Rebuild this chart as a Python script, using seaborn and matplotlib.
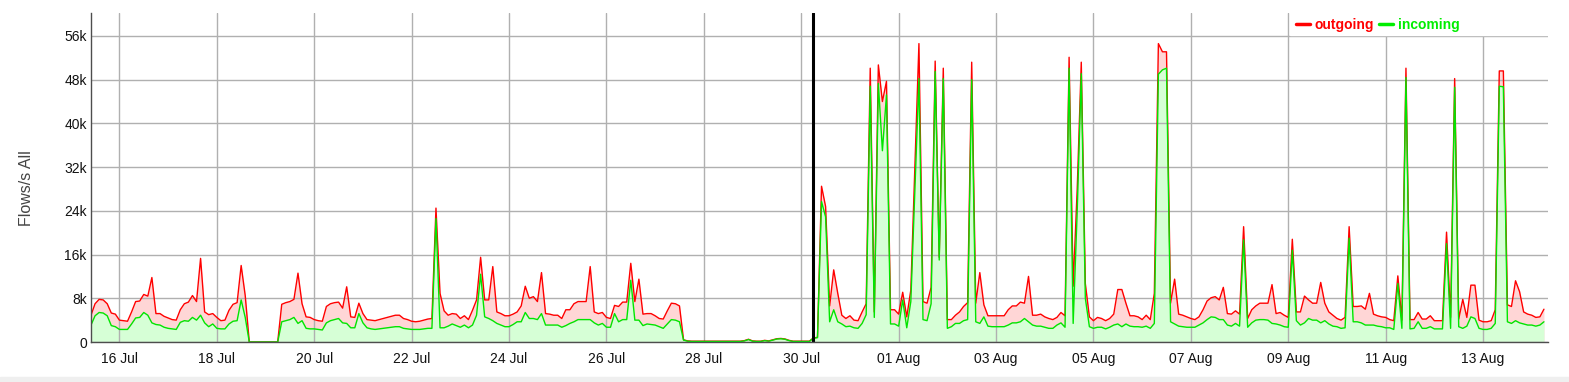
import numpy as np
import pandas as pd
import matplotlib
matplotlib.use("Agg")
import matplotlib.pyplot as plt
from matplotlib.lines import Line2D
from matplotlib.patches import Rectangle
import seaborn as sns

# 2-hourly samples, one row per day, values in thousands of flows/s
start = "2023-07-15 10:00"
step = "2h"

outgoing_k = [
    4.9, 7.0, 7.8, 7.7, 7.0, 5.3, 5.1, 4.0, 3.9, 3.8, 5.5, 7.4,
    7.5, 8.7, 8.4, 11.8, 5.2, 5.2, 4.7, 4.4, 4.1, 4.0, 5.9, 7.0,
    7.3, 8.5, 7.4, 15.3, 5.5, 5.0, 5.2, 4.5, 3.9, 4.0, 5.8, 6.9,
    7.2, 14.0, 8.5, 0, 0, 0, 0, 0, 0, 0, 0, 6.9,
    7.2, 7.4, 7.8, 12.6, 7.0, 4.6, 4.5, 4.1, 3.9, 3.8, 6.5, 7.0,
    7.2, 7.3, 6.2, 10.1, 4.6, 4.5, 7.1, 5.2, 4.1, 4.0, 3.9, 4.1,
    4.3, 4.5, 4.7, 4.9, 4.9, 4.3, 4.1, 3.8, 3.7, 3.8, 4.0, 4.2,
    4.3, 24.5, 8.9, 5.7, 4.9, 5.2, 5.1, 4.3, 4.8, 4.1, 5.8, 7.7,
    15.5, 7.7, 7.7, 13.8, 5.5, 5.2, 4.8, 4.8, 5.1, 5.5, 6.6, 10.2,
    8.0, 8.3, 7.4, 12.7, 5.2, 5.1, 4.9, 4.9, 4.3, 5.9, 5.9, 7.0,
    7.4, 7.4, 7.4, 13.8, 5.5, 5.2, 5.4, 4.5, 4.3, 6.7, 6.5, 7.3,
    7.3, 14.4, 7.4, 11.5, 5.1, 5.2, 5.2, 4.8, 4.3, 4.2, 5.7, 7.1,
    7.0, 6.6, 0.4, 0.2, 0.15, 0.15, 0.15, 0.15, 0.15, 0.15, 0.15, 0.15,
    0.15, 0.15, 0.15, 0.15, 0.15, 0.25, 0.5, 0.2, 0.15, 0.15, 0.3, 0.2,
    0.4, 0.6, 0.65, 0.55, 0.3, 0.15, 0.15, 0.15, 0.15, 0.15, 0.75, 0.85,
    28.5, 24.8, 6.6, 13.2, 8.9, 4.9, 4.3, 4.8, 4.0, 3.9, 5.5, 7.0,
    50.1, 5.5, 50.7, 44.0, 47.7, 5.9, 5.9, 5.1, 9.1, 4.6, 9.5, 32.0,
    54.6, 7.4, 7.1, 10.0, 51.4, 15.5, 50.1, 4.1, 4.1, 4.9, 5.5, 6.5,
    7.2, 51.2, 7.1, 12.7, 6.8, 4.8, 4.8, 4.8, 4.8, 4.8, 5.9, 6.6,
    6.6, 7.3, 7.1, 12.0, 4.9, 4.9, 5.1, 4.6, 4.3, 4.1, 4.5, 5.4,
    4.8, 52.1, 10.2, 28.0, 51.2, 10.7, 4.6, 3.9, 4.5, 4.3, 3.9, 4.3,
    5.1, 9.6, 9.6, 7.1, 4.8, 4.8, 4.6, 4.1, 4.9, 4.1, 8.9, 54.6,
    53.1, 53.1, 7.1, 11.5, 5.1, 4.9, 4.6, 4.3, 4.1, 4.6, 5.9, 7.5,
    8.1, 8.3, 7.7, 10.0, 5.2, 5.1, 5.7, 5.1, 21.1, 4.3, 5.9, 6.6,
    7.1, 7.1, 7.1, 10.5, 5.2, 5.4, 4.9, 4.5, 18.8, 5.5, 5.5, 8.4,
    7.7, 7.1, 7.1, 10.9, 7.1, 5.5, 4.9, 4.3, 4.0, 4.5, 21.1, 6.5,
    6.5, 6.6, 6.0, 8.9, 5.1, 4.8, 4.6, 4.5, 4.1, 3.9, 12.1, 4.0,
    50.1, 4.1, 4.1, 5.4, 4.2, 4.2, 4.8, 3.9, 3.9, 3.9, 20.1, 4.5,
    48.2, 4.2, 7.8, 4.5, 10.4, 10.4, 4.0, 3.7, 3.7, 3.9, 5.9, 49.6,
    49.6, 6.8, 6.5, 11.2, 9.2, 5.5, 5.1, 4.9, 4.5, 4.6, 6.0,
]

incoming_k = [
    3.1, 4.8, 5.4, 5.3, 4.8, 3.0, 2.8, 2.3, 2.3, 2.3, 3.3, 4.4,
    4.5, 5.4, 4.9, 3.5, 3.2, 3.1, 2.7, 2.5, 2.4, 2.3, 3.6, 3.9,
    3.8, 4.5, 4.0, 4.9, 3.5, 2.8, 3.3, 2.5, 2.4, 2.4, 3.3, 3.8,
    3.9, 7.7, 4.5, 0, 0, 0, 0, 0, 0, 0, 0, 3.7,
    3.9, 4.1, 4.5, 3.4, 3.9, 2.5, 2.4, 2.4, 2.3, 2.2, 3.5, 3.9,
    4.1, 4.3, 3.5, 3.4, 2.6, 2.6, 5.2, 3.5, 2.6, 2.4, 2.3, 2.4,
    2.5, 2.6, 2.7, 2.8, 2.8, 2.5, 2.4, 2.3, 2.3, 2.3, 2.4, 2.5,
    2.5, 22.6, 2.6, 2.6, 2.9, 3.3, 3.0, 2.7, 3.1, 2.6, 3.1, 4.9,
    12.4, 4.6, 4.3, 3.9, 3.4, 3.1, 2.8, 2.8, 3.2, 3.7, 3.7, 5.4,
    4.3, 4.3, 4.1, 5.2, 3.1, 3.1, 3.1, 3.1, 2.7, 3.0, 3.4, 3.7,
    4.1, 4.1, 4.1, 4.1, 3.5, 3.1, 3.4, 2.7, 2.7, 5.2, 3.7, 4.1,
    4.1, 11.3, 4.0, 4.0, 3.0, 3.3, 3.2, 3.1, 2.8, 2.5, 3.3, 4.1,
    4.0, 3.7, 0.35, 0.15, 0.1, 0.1, 0.1, 0.1, 0.1, 0.1, 0.1, 0.1,
    0.1, 0.1, 0.1, 0.1, 0.1, 0.2, 0.45, 0.15, 0.1, 0.1, 0.25, 0.15,
    0.35, 0.55, 0.6, 0.5, 0.25, 0.1, 0.1, 0.1, 0.1, 0.1, 0.7, 0.8,
    25.7, 22.9, 3.7, 5.9, 3.7, 3.3, 2.8, 2.9, 2.6, 2.5, 3.4, 5.0,
    46.8, 4.5, 47.3, 35.0, 45.2, 3.3, 3.3, 2.9, 7.7, 2.6, 7.4, 28.0,
    48.2, 4.1, 3.9, 7.0, 49.5, 15.0, 48.2, 2.5, 2.8, 3.4, 3.4, 3.9,
    4.1, 48.0, 3.7, 3.4, 4.6, 2.9, 2.8, 2.8, 2.8, 2.8, 3.1, 3.5,
    3.5, 3.7, 4.3, 3.7, 3.1, 2.9, 2.9, 2.7, 2.5, 2.5, 3.1, 3.5,
    2.7, 50.1, 3.4, 24.0, 49.1, 8.0, 2.8, 2.5, 2.7, 2.7, 2.4, 2.7,
    3.1, 3.3, 2.8, 3.3, 2.9, 2.8, 2.8, 2.7, 2.9, 2.5, 3.4, 49.0,
    49.8, 50.1, 3.7, 3.3, 2.9, 2.8, 2.7, 2.7, 2.7, 3.1, 3.5, 4.1,
    4.6, 4.5, 4.1, 4.1, 3.1, 2.9, 3.4, 2.9, 18.7, 2.7, 3.5, 4.0,
    4.1, 4.1, 4.0, 3.4, 3.3, 3.1, 2.8, 2.7, 16.8, 3.9, 3.1, 3.5,
    4.3, 4.0, 4.0, 3.5, 3.9, 3.3, 2.9, 2.8, 2.5, 2.6, 19.0, 3.7,
    3.7, 3.5, 3.1, 3.1, 3.1, 2.9, 2.8, 2.6, 2.6, 2.3, 10.7, 2.5,
    48.4, 2.4, 2.5, 3.7, 2.5, 2.5, 2.8, 2.4, 2.4, 2.4, 18.0, 2.5,
    46.6, 2.8, 2.5, 2.9, 4.6, 4.3, 2.5, 2.3, 2.3, 2.5, 3.4, 46.8,
    46.7, 3.7, 3.4, 3.9, 3.5, 3.3, 3.1, 3.1, 2.9, 3.1, 3.7,
]

event_time = "2023-07-30 06:00"
y_ticks_k = [0, 8, 16, 24, 32, 40, 48, 56]
y_tick_labels = ["0", "8k", "16k", "24k", "32k", "40k", "48k", "56k"]
x_ticks = pd.date_range("2023-07-16", "2023-08-13", freq="2D")

times = pd.date_range(start, periods=len(outgoing_k), freq=step)
df = pd.DataFrame({
    "time": times,
    "outgoing": np.array(outgoing_k) * 1000,
    "incoming": np.array(incoming_k) * 1000,
})

sns.set_style("white")
plt.rcParams["font.family"] = ["Liberation Sans", "DejaVu Sans"]

W, H = 1569, 382
fig = plt.figure(figsize=(W / 100, H / 100), dpi=100)
ax = fig.add_axes([91 / W, 40 / H, 1457 / W, 329 / H])

red, green = "#ff0000", "#00e600"

ax.fill_between(df["time"], 0, df["outgoing"], color="#ffd6d6", lw=0, zorder=1)
ax.fill_between(df["time"], 0, df["incoming"], color="#d6ffd6", lw=0, zorder=2)
sns.lineplot(data=df, x="time", y="outgoing", color=red, lw=1, ax=ax, zorder=3)
sns.lineplot(data=df, x="time", y="incoming", color=green, lw=1, ax=ax, zorder=4)

ax.axvline(pd.Timestamp(event_time), color="black", lw=2.2, zorder=6)

ax.set_axisbelow(False)
ax.grid(True, color="#b0b0b0", lw=1)

ax.set_xlim(pd.Timestamp("2023-07-15 10:00"), pd.Timestamp("2023-08-14 08:00"))
ax.set_ylim(0, 60200)
ax.set_yticks([v * 1000 for v in y_ticks_k])
ax.set_yticklabels(y_tick_labels)
ax.set_xticks(x_ticks)
ax.set_xticklabels([d.strftime("%d %b") for d in x_ticks])
ax.tick_params(axis="both", length=0, labelsize=10, labelcolor="#111111")
ax.tick_params(axis="y", pad=3)
ax.tick_params(axis="x", pad=7)

ax.set_xlabel("")
ax.set_ylabel("Flows/s All", fontsize=11.5, color="#444444")
ax.yaxis.set_label_coords(-(91 - 34) / 1457, (342 - 188) / 329)

for side in ["top", "right"]:
    ax.spines[side].set_visible(False)
for side in ["left", "bottom"]:
    ax.spines[side].set_color("#4d4d4d")
    ax.spines[side].set_linewidth(1)
    ax.spines[side].set_zorder(7)

# white box behind the legend covering the grid
ax.add_patch(Rectangle(((1290 - 91) / 1457, (342 - 35) / 329), 1, 1,
                       transform=ax.transAxes, color="white", zorder=2.7, clip_on=True))

handles = [Line2D([], [], color=red, lw=2.5), Line2D([], [], color="#00ee00", lw=2.5)]
leg = ax.legend(handles, ["outgoing", "incoming"], ncol=2, loc="center left",
                bbox_to_anchor=((1296 - 91) / 1457, (342 - 25) / 329),
                frameon=False, borderpad=0, borderaxespad=0,
                handlelength=1.0, handletextpad=0.35, columnspacing=0.35,
                labelcolor="linecolor", prop={"weight": "bold", "size": 10})
leg.set_zorder(8)

# light strip at the bottom of the page
fig.patches.append(Rectangle((0, 0), 1, 5 / H, transform=fig.transFigure,
                             color="#efefef", zorder=0))

fig.savefig("out.png", dpi=100)
